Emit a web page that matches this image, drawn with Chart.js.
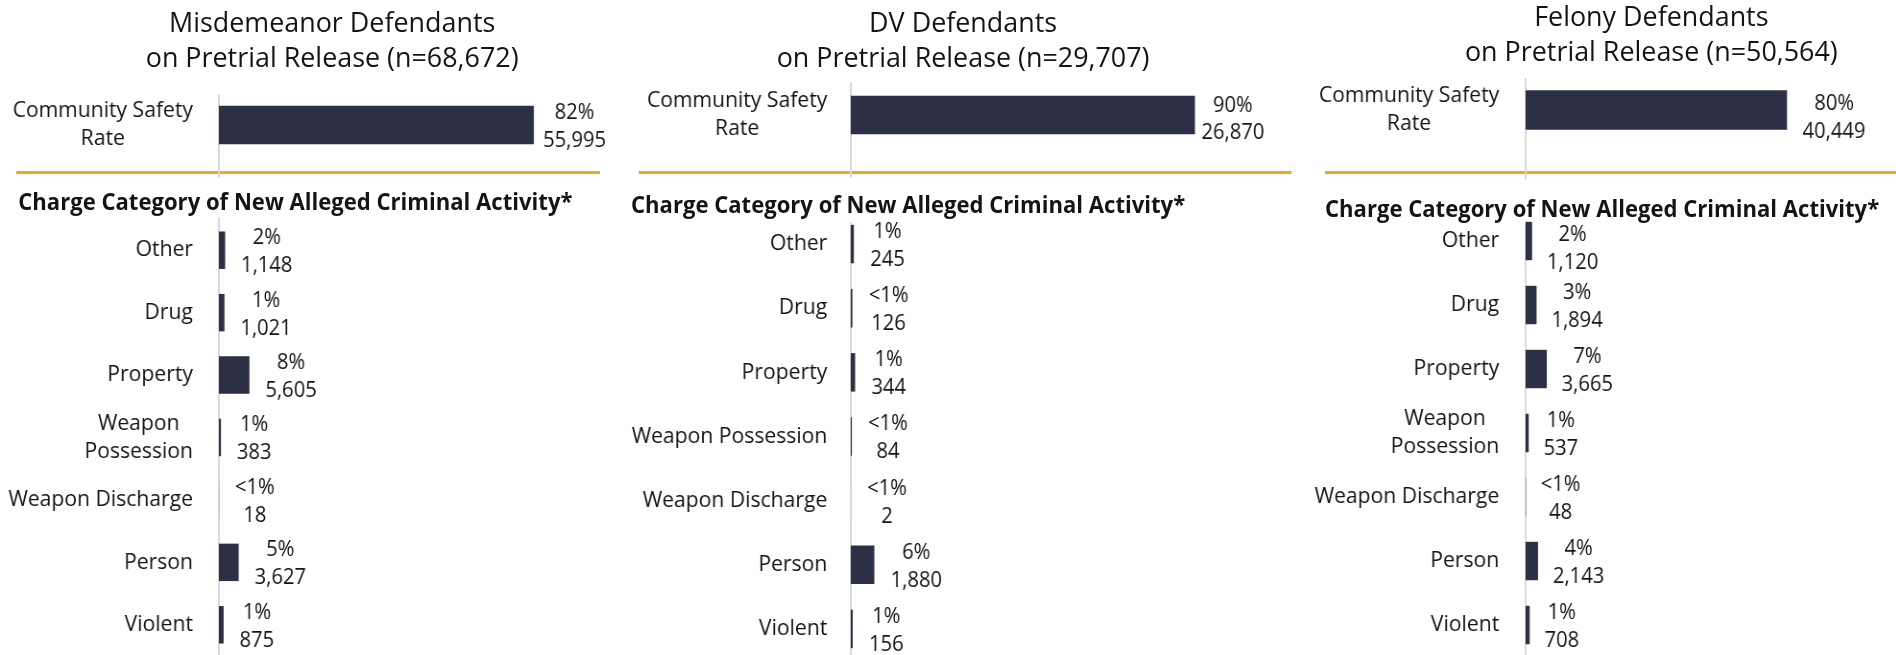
<!DOCTYPE html>
<html>
<head>
<meta charset="utf-8">
<script src="https://cdn.jsdelivr.net/npm/chart.js@4.4.0/dist/chart.umd.min.js"></script>
<style>
html, body { margin: 0; padding: 0; background: #fff; overflow: hidden; width: 1896px; height: 655px; }
.panel { position: absolute; top: 0; height: 655px; transform-origin: 0 0; font-family: "Open Sans", sans-serif; color: #141414; }
.title { position: absolute; width: 900px; text-align: center; font-size: 28px; line-height: 35px; white-space: nowrap; }
.rule { position: absolute; top: 170.5px; height: 3.5px; background: #f7a21b; }
.heading { position: absolute; font-weight: bold; font-size: 23px; line-height: 30px; white-space: nowrap; }
canvas { position: absolute; left: 0; }
</style>
</head>
<body>
<script>
// data
const panelTitles = [
    ['Misdemeanor Defendants', 'on Pretrial Release (n=68,672)'],
    ['DV Defendants', 'on Pretrial Release (n=29,707)'],
    ['Felony Defendants', 'on Pretrial Release (n=50,564)']
];
const panelTotals = [68672, 29707, 50564];

const safetyLabels = [['Community Safety', 'Rate']];
const safetyCounts = [55995, 26870, 40449];
const safetyPcts = ['82%', '90%', '80%'];

const chargeHeading = 'Charge Category of New Alleged Criminal Activity*';
const chargeLabels = ['Other', 'Drug', 'Property', ['Weapon', 'Possession'], 'Weapon Discharge', 'Person', 'Violent'];
const chargeLabelsDV = ['Other', 'Drug', 'Property', 'Weapon Possession', 'Weapon Discharge', 'Person', 'Violent'];

const misdCounts = [1148, 1021, 5605, 383, 18, 3627, 875];
const misdPcts = ['2%', '1%', '8%', '1%', '<1%', '5%', '1%'];
const dvCounts = [245, 126, 344, 84, 2, 1880, 156];
const dvPcts = ['1%', '<1%', '1%', '<1%', '<1%', '6%', '1%'];
const felCounts = [1120, 1894, 3665, 537, 48, 2143, 708];
const felPcts = ['2%', '3%', '7%', '1%', '<1%', '4%', '1%'];

const BAR = '#2d2f45';
const AXIS = '#d9d9d9';
const INK = '#141414';

// per panel placement (x in unscaled panel units, y in page px)
const layouts = [
    { x0: 0, k: 0.96, axisX: 228, labelGap: 27, titleX: 346, titleTop: 4, ruleL: 17, ruleR: 625, headX: 19, headTop: 186,
      top: { lineFrom: 94, lineTo: 178, center: 125, thick: 38, axisW: 402, valGap: 10, dy1: -12, dy2: 16 },
      bottom: { areaTop: 219, areaBottom: 656, lineFrom: 217, axisW: 390, valGap: 16.6, dy1: -12, dy2: 16, firstShift: 0 } },
    { x0: 630, k: 0.96, axisX: 230, labelGap: 24.5, titleX: 347, titleTop: 4, ruleL: 9, ruleR: 689, headX: 1, headTop: 189,
      top: { lineFrom: 82, lineTo: 178, center: 115, thick: 38, axisW: 396, valGap: 7, dy1: -9, dy2: 18 },
      bottom: { areaTop: 212, areaBottom: 661, lineFrom: 222, axisW: 388, valGap: 17, dy1: -12, dy2: 16, firstShift: 0 } },
    { x0: 1300, k: 0.96, axisX: 235, labelGap: 27.5, titleX: 366, titleTop: -2, ruleL: 26, ruleR: 625, headX: 26, headTop: 193,
      top: { lineFrom: 78, lineTo: 180, center: 110, thick: 39, axisW: 340, valGap: 16.6, dy1: -6, dy2: 22 },
      bottom: { areaTop: 209, areaBottom: 657, lineFrom: 223, axisW: 305, valGap: 15.5, dy1: -12, dy2: 16, firstShift: 6 } }
];

const panelCharge = [
    { labels: chargeLabels, counts: misdCounts, pcts: misdPcts },
    { labels: chargeLabelsDV, counts: dvCounts, pcts: dvPcts },
    { labels: chargeLabels, counts: felCounts, pcts: felPcts }
];

const sideLabels = {
    id: 'sideLabels',
    beforeDatasetsDraw(chart, args, o) {
        const ctx = chart.ctx, a = chart.chartArea;
        ctx.save();
        ctx.strokeStyle = AXIS;
        ctx.lineWidth = 2;
        ctx.beginPath();
        ctx.moveTo(a.left, o.lineFrom);
        ctx.lineTo(a.left, o.lineTo);
        ctx.stroke();
        ctx.restore();
    },
    afterDatasetsDraw(chart, args, o) {
        const ctx = chart.ctx, a = chart.chartArea, yScale = chart.scales.y;
        const ds = chart.data.datasets[0];
        ctx.save();
        ctx.fillStyle = INK;
        ctx.textAlign = 'center';
        ctx.textBaseline = 'middle';

        // category labels, lines centred on each other
        ctx.font = '22px "Open Sans"';
        chart.data.labels.forEach((lab, i) => {
            const lines = [].concat(lab);
            const w = Math.max(...lines.map(t => ctx.measureText(t).width));
            const cx = a.left - o.labelGap - w / 2;
            const cy = yScale.getPixelForValue(i);
            lines.forEach((t, j) => ctx.fillText(t, cx, cy + (j - (lines.length - 1) / 2) * 28));
        });

        // value labels: percent over count
        ctx.font = '21px "Open Sans"';
        chart.getDatasetMeta(0).data.forEach((bar, i) => {
            const lines = [ds.pctLabels[i], ds.data[i].toLocaleString('en-US')];
            const w = Math.max(...lines.map(t => ctx.measureText(t).width));
            const cx = bar.x + o.valGap + w / 2;
            const shift = i === 0 ? (o.firstShift || 0) : 0;
            ctx.fillText(lines[0], cx, bar.y + o.dy1 + shift);
            ctx.fillText(lines[1], cx, bar.y + o.dy2 + shift);
        });
        ctx.restore();
    }
};

function addCanvas(parent, top, w, h) {
    const c = document.createElement('canvas');
    c.width = w;
    c.height = h;
    c.style.top = top + 'px';
    c.style.width = w + 'px';
    c.style.height = h + 'px';
    parent.appendChild(c);
    return c;
}

function barChart(canvas, labels, counts, pcts, total, axisX, pad, thick, plug) {
    return new Chart(canvas.getContext('2d'), {
        type: 'bar',
        data: {
            labels: labels,
            datasets: [{
                data: counts,
                pctLabels: pcts,
                backgroundColor: BAR,
                borderWidth: 0,
                barThickness: thick,
                barPercentage: 0.6,
                categoryPercentage: 1
            }]
        },
        options: {
            indexAxis: 'y',
            responsive: false,
            animation: false,
            devicePixelRatio: 1,
            layout: { padding: pad },
            plugins: {
                legend: { display: false },
                tooltip: { enabled: false },
                sideLabels: plug
            },
            scales: {
                x: { display: false, min: 0, max: total },
                y: {
                    grid: { display: false },
                    border: { display: false },
                    ticks: { display: false },
                    afterFit(s) { s.width = axisX; }
                }
            }
        },
        plugins: [sideLabels]
    });
}

function buildPanel(i) {
    const L = layouts[i];
    const panel = document.createElement('div');
    panel.className = 'panel';
    panel.style.left = L.x0 + 'px';
    panel.style.width = '900px';
    panel.style.transform = 'scaleX(' + L.k + ')';
    document.body.appendChild(panel);

    const title = document.createElement('div');
    title.className = 'title';
    title.style.left = (L.titleX - 450) + 'px';
    title.style.top = L.titleTop + 'px';
    title.innerHTML = panelTitles[i].join('<br>');
    panel.appendChild(title);

    const rule = document.createElement('div');
    rule.className = 'rule';
    rule.style.left = L.ruleL + 'px';
    rule.style.width = (L.ruleR - L.ruleL) + 'px';
    panel.appendChild(rule);

    const head = document.createElement('div');
    head.className = 'heading';
    head.style.left = L.headX + 'px';
    head.style.top = L.headTop + 'px';
    head.textContent = chargeHeading;
    panel.appendChild(head);

    // community safety rate
    const T = L.top;
    const tH = T.lineTo - T.lineFrom;
    const tW = L.axisX + T.axisW + 200;
    const c1 = addCanvas(panel, T.lineFrom, tW, tH);
    barChart(c1, safetyLabels, [safetyCounts[i]], [safetyPcts[i]], panelTotals[i], L.axisX,
        { top: 0, left: 0, right: 200, bottom: tH - 2 * (T.center - T.lineFrom) }, T.thick,
        { lineFrom: 0, lineTo: tH, labelGap: L.labelGap, valGap: T.valGap, dy1: T.dy1, dy2: T.dy2 });

    // charge categories
    const B = L.bottom;
    const bTop = 180;
    const bH = B.areaBottom - bTop;
    const bW = L.axisX + B.axisW + 200;
    const c2 = addCanvas(panel, bTop, bW, bH);
    const pc = panelCharge[i];
    barChart(c2, pc.labels, pc.counts, pc.pcts, panelTotals[i], L.axisX,
        { top: B.areaTop - bTop, left: 0, right: 200, bottom: 0 }, undefined,
        { lineFrom: B.lineFrom - bTop, lineTo: bH, labelGap: L.labelGap, valGap: B.valGap,
          dy1: B.dy1, dy2: B.dy2, firstShift: B.firstShift });
}

Promise.all([
    document.fonts.load('22px "Open Sans"'),
    document.fonts.load('bold 23px "Open Sans"')
]).catch(() => {}).then(() => {
    [0, 1, 2].forEach(buildPanel);
});
</script>
</body>
</html>
